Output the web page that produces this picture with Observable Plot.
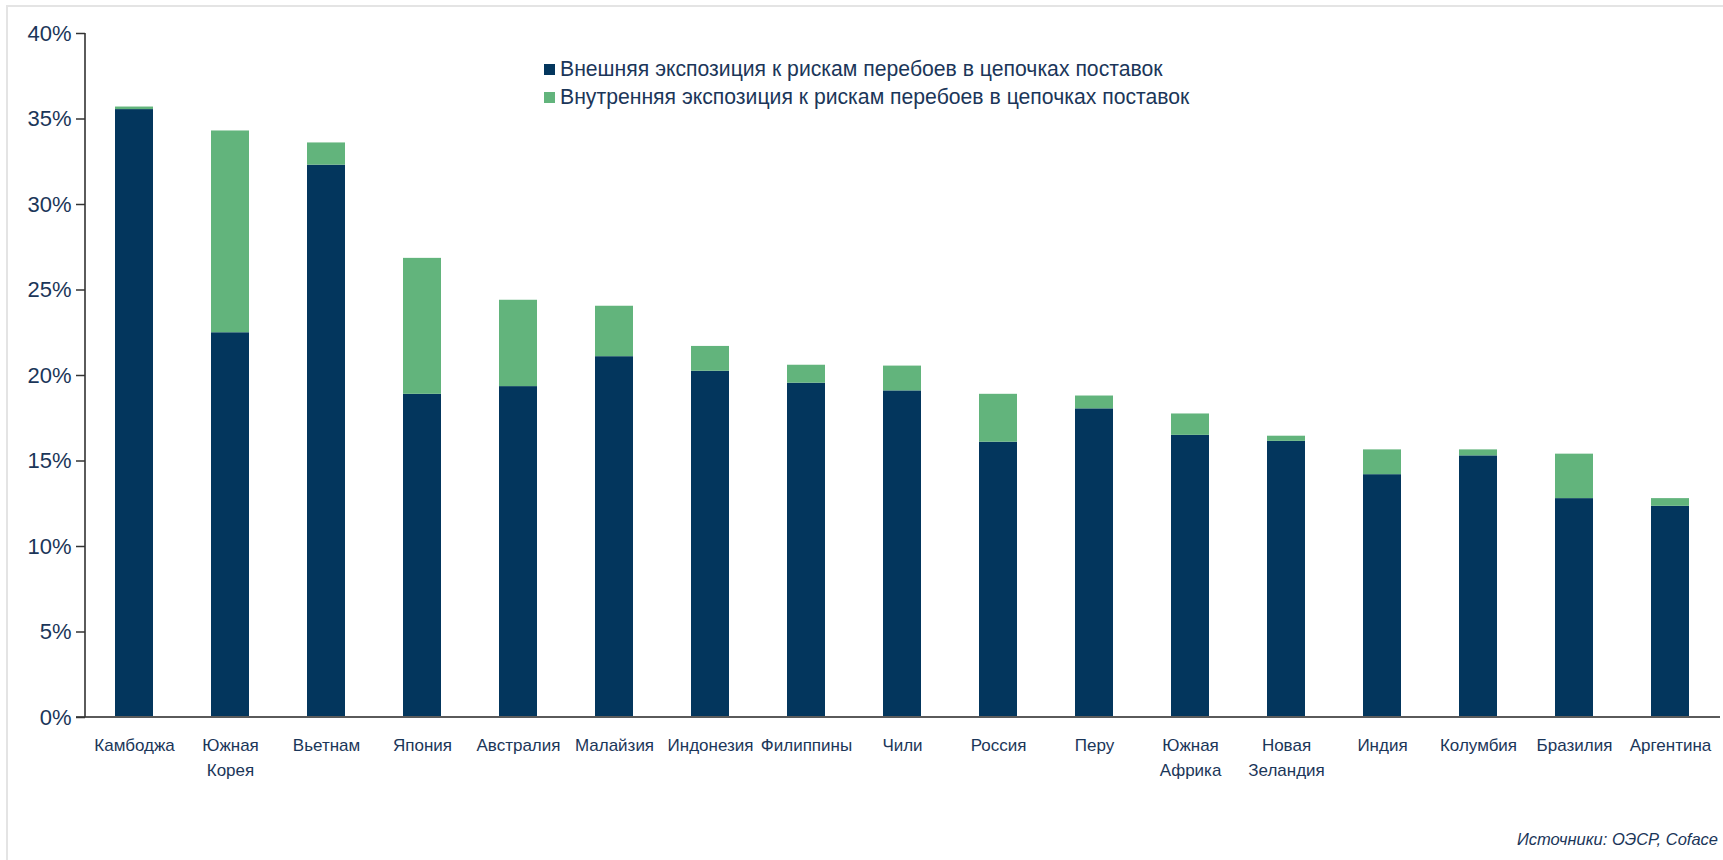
<!DOCTYPE html>
<html>
<head>
<meta charset="utf-8">
<script src="https://cdn.jsdelivr.net/npm/d3@7"></script>
<script src="https://cdn.jsdelivr.net/npm/@observablehq/plot@0.6"></script>
<style>
  html, body { margin: 0; padding: 0; background: #fff; }
  #wrap { position: relative; width: 1723px; height: 860px; overflow: hidden; font-family: "Liberation Sans", Arial, sans-serif; }
  #frame { position: absolute; left: 6px; top: 5px; width: 1730px; height: 870px; border-left: 2px solid #e4e4e4; border-top: 2px solid #e4e4e4; box-sizing: border-box; }
  #legend { position: absolute; left: 544px; top: 55px; font-size: 21.2px; line-height: 27.5px; color: #1b3659; white-space: nowrap; }
  #legend .sw { display: inline-block; width: 11px; height: 11px; margin-right: 5px; vertical-align: 1px; }
  #caption { position: absolute; right: 5px; top: 829px; font-size: 16.5px; line-height: 20px; font-style: italic; color: #1b3659; }
  #chart { position: absolute; left: 0; top: 0; }
</style>
</head>
<body>
<div id="wrap">
  <div id="frame"></div>
  <div id="chart"></div>
  <div id="legend"></div>
  <div id="caption">Источники: ОЭСР, Coface</div>
</div>
<script>
const countries = ["Камбоджа", "Южная\nКорея", "Вьетнам", "Япония", "Австралия", "Малайзия", "Индонезия", "Филиппины", "Чили", "Россия", "Перу", "Южная\nАфрика", "Новая\nЗеландия", "Индия", "Колумбия", "Бразилия", "Аргентина"];
const external = [35.55, 22.5, 32.3, 18.9, 19.35, 21.1, 20.25, 19.55, 19.1, 16.1, 18.05, 16.5, 16.15, 14.2, 15.3, 12.8, 12.35];
const internal = [0.15, 11.8, 1.3, 7.95, 5.05, 2.95, 1.45, 1.05, 1.45, 2.8, 0.75, 1.25, 0.3, 1.45, 0.35, 2.6, 0.45];
const seriesNames = ["Внешняя экспозиция к рискам перебоев в цепочках поставок", "Внутренняя экспозиция к рискам перебоев в цепочках поставок"];
const seriesColors = ["#03365d", "#62b47c"];
const yTicks = [0, 5, 10, 15, 20, 25, 30, 35, 40];

const rows = [];
countries.forEach((c, i) => rows.push({country: c, series: seriesNames[0], value: external[i]}));
countries.forEach((c, i) => rows.push({country: c, series: seriesNames[1], value: internal[i]}));

const textColor = "#1b3659";

// axis lines drawn from the library's own y scale and frame dimensions
function axisLines(index, scales, values, dimensions) {
  const {width, marginLeft, marginRight} = dimensions;
  const g = d3.create("svg:g");
  const y0 = scales.y(0), y1 = scales.y(40);
  g.append("line")
    .attr("x1", marginLeft - 9).attr("x2", width - marginRight)
    .attr("y1", y0).attr("y2", y0)
    .attr("stroke", "#5a5a5a").attr("stroke-width", 2);
  g.append("line")
    .attr("x1", marginLeft).attr("x2", marginLeft)
    .attr("y1", y1).attr("y2", y0)
    .attr("stroke", "#333").attr("stroke-width", 1.6);
  return g.node();
}

const plot = Plot.plot({
  width: 1723,
  height: 860,
  marginLeft: 85,
  marginRight: 3,
  marginTop: 33,
  marginBottom: 143,
  style: {fontFamily: "'Liberation Sans', Arial, sans-serif", background: "transparent", overflow: "visible"},
  x: {domain: countries, paddingInner: 0.6, paddingOuter: 0.3, label: null},
  y: {domain: [0, 40], label: null},
  color: {domain: seriesNames, range: seriesColors},
  marks: [
    Plot.barY(rows, {x: "country", y: "value", fill: "series"}),
    axisLines,
    Plot.axisY({ticks: yTicks, tickFormat: d => d + "%", tickSize: 9, tickPadding: 5, fontSize: 22, color: textColor, stroke: "#333", strokeWidth: 1.5}),
    Plot.axisX({tickSize: 0, tickPadding: 16, fontSize: 17, lineHeight: 1.45, color: textColor})
  ]
});
document.getElementById("chart").appendChild(plot);

const legend = document.getElementById("legend");
seriesNames.forEach((name, i) => {
  const row = document.createElement("div");
  const sw = document.createElement("span");
  sw.className = "sw";
  sw.style.background = seriesColors[i];
  row.appendChild(sw);
  row.appendChild(document.createTextNode(name));
  legend.appendChild(row);
});
</script>
</body>
</html>
